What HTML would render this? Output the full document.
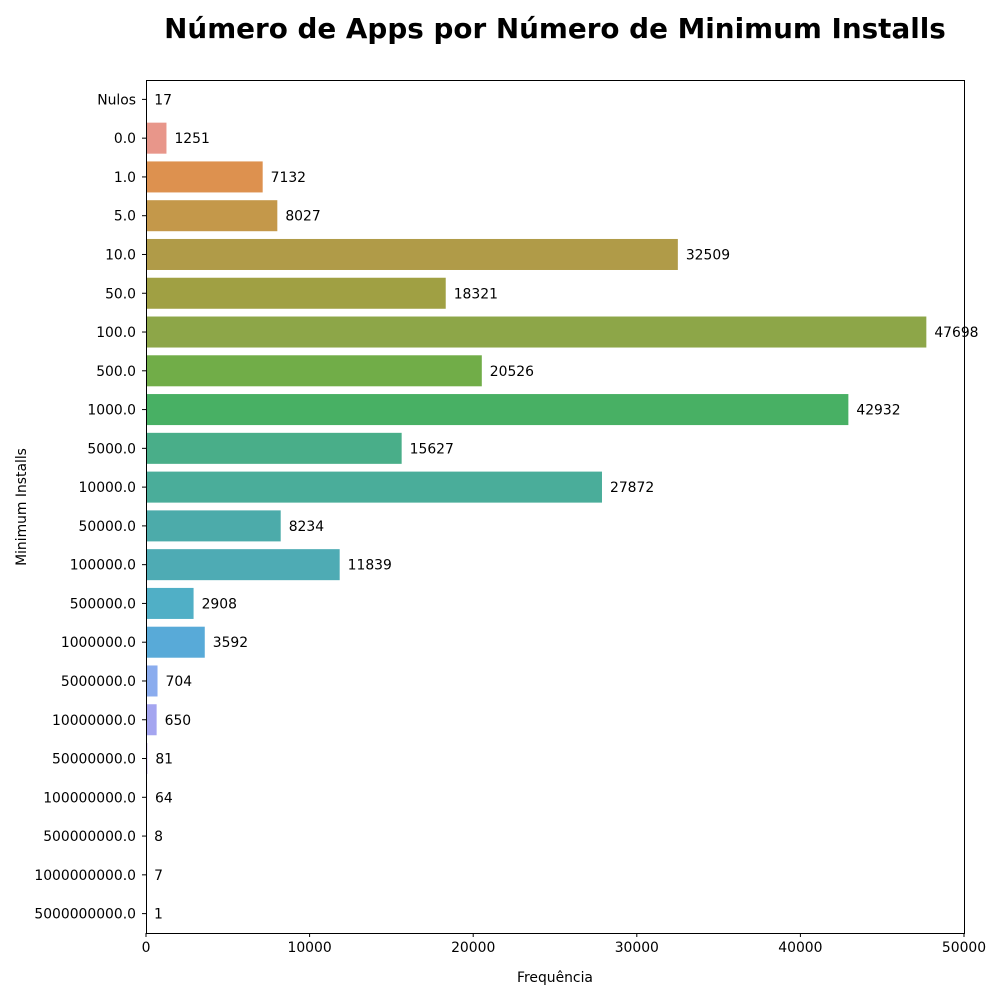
<!DOCTYPE html>
<html><head><meta charset="utf-8"><style>
body{margin:0;background:#fff;font-family:"Liberation Sans","DejaVu Sans",sans-serif}
svg text{font-family:"DejaVu Sans","Liberation Sans",sans-serif}
</style></head><body>
<svg id="c" width="1000" height="1000" xmlns="http://www.w3.org/2000/svg">
<text x="555" y="38" text-anchor="middle" font-size="27.8" font-weight="bold">Número de Apps por Número de Minimum Installs</text>
<text x="555" y="982" text-anchor="middle" font-size="13.9">Frequência</text>
<text transform="translate(26,507) rotate(-90)" text-anchor="middle" font-size="13.9">Minimum Installs</text>
<g id="bars"></g>
<rect x="146.5" y="80.5" width="818" height="853" fill="none" stroke="#000" stroke-width="1"/>
</svg>
<script>
const categories=["Nulos","0.0","1.0","5.0","10.0","50.0","100.0","500.0","1000.0","5000.0","10000.0","50000.0","100000.0","500000.0","1000000.0","5000000.0","10000000.0","50000000.0","100000000.0","500000000.0","1000000000.0","5000000000.0"];
const values=[17,1251,7132,8027,32509,18321,47698,20526,42932,15627,27872,8234,11839,2908,3592,704,650,81,64,8,7,1];
const xTicks=[0,10000,20000,30000,40000,50000];
const colors=["#f77189","#e8968a","#dd914f","#c4984a","#b09b48","#a0a043","#8da648","#71ad48","#48b064","#49ae89","#4aad9a","#4cabaa","#4eabb4","#50afc6","#58aad8","#8aacee","#a4a5f0","#bb9af2","#d88cf0","#f278e0","#f577c2","#f774a8"];
const L=146,R=964,T=80,B=933;
const x=v=>L+(v/50000)*(R-L);
const band=(B-T)/categories.length;
const y=i=>T+band*i;
const ns="http://www.w3.org/2000/svg";
const g=document.getElementById('bars');
function mk(t,a){const e=document.createElementNS(ns,t);for(const k in a)e.setAttribute(k,a[k]);return e;}
categories.forEach((c,i)=>{
 const r=mk('rect',{x:x(0),y:y(i)+band*0.1,width:Math.max(0,x(values[i])-x(0)),height:band*0.8,fill:colors[i]});
 
 
 g.appendChild(r);
 const lb=mk('text',{x:x(values[i])+8,y:y(i)+band/2+5,'font-size':13.9});
 lb.textContent=values[i];
 
 
 g.appendChild(lb);
 const tk=mk('line',{x1:L-4,x2:L,y1:y(i)+band/2,y2:y(i)+band/2,stroke:'#000'});
 
 
 g.appendChild(tk);
 const tl=mk('text',{x:L-10,y:y(i)+band/2+5,'font-size':13.9,'text-anchor':'end'});
 tl.textContent=c;
 
 
 g.appendChild(tl);
});
xTicks.forEach(v=>{
 const tk=mk('line',{x1:x(v),x2:x(v),y1:B,y2:B+4,stroke:'#000'});
 
 
 g.appendChild(tk);
 const tl=mk('text',{x:x(v),y:B+19,'font-size':13.9,'text-anchor':'middle'});
 tl.textContent=v;
 
 
 g.appendChild(tl);
});
</script>
</body></html>
